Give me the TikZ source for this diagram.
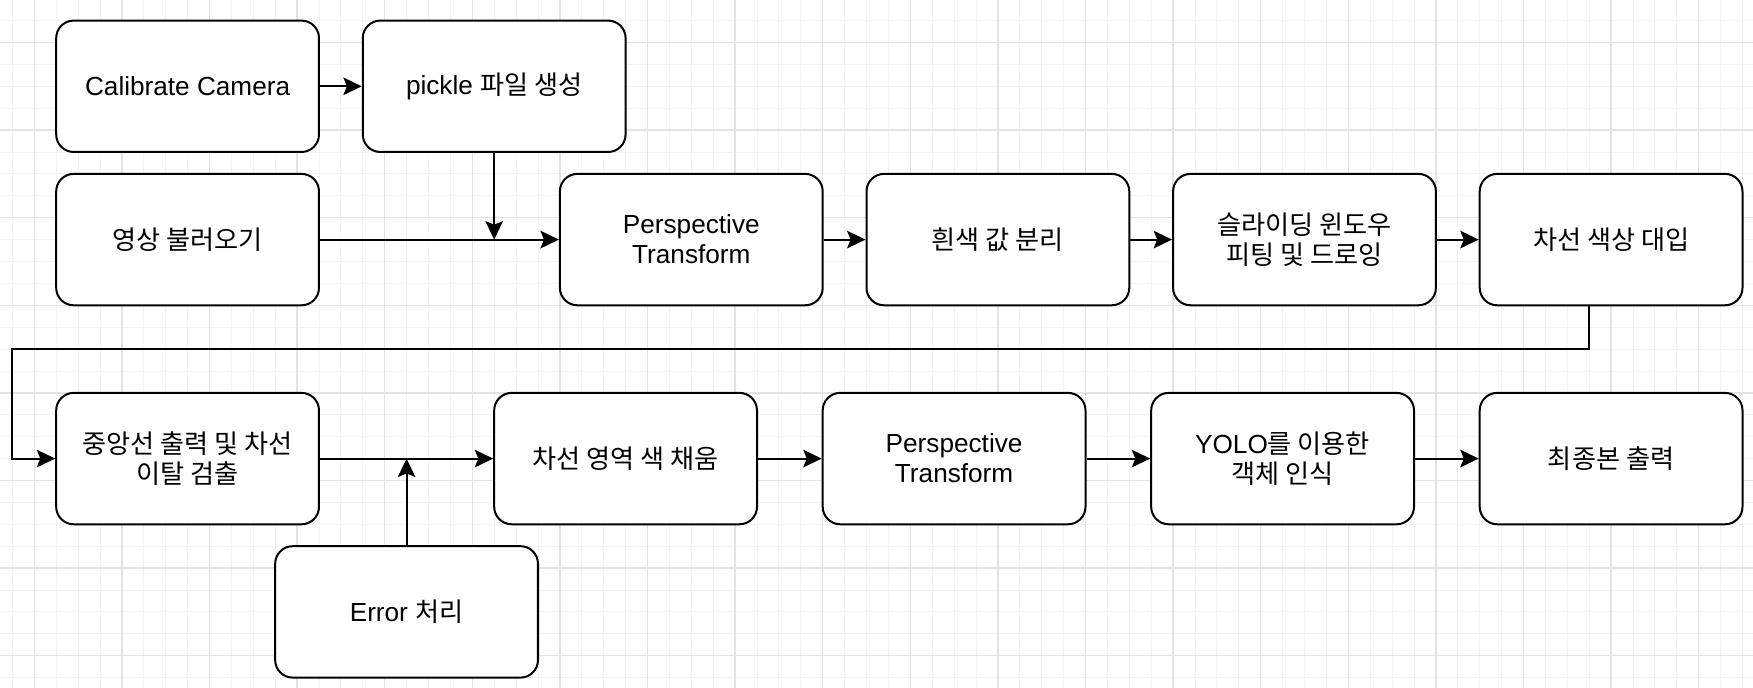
\documentclass[tikz,border=0pt]{standalone}
\usepackage{fontspec}
\setmainfont{Liberation Sans}
\newfontfamily\kr{Noto Sans CJK KR}
\usetikzlibrary{arrows.meta}
\definecolor{minorc}{HTML}{F3F3F3}
\definecolor{majorc}{HTML}{E3E3E3}
\tikzset{
  minorgrid/.style={draw=minorc, line width=0.6pt},
  majorgrid/.style={draw=majorc, line width=0.8pt},
  stepbox/.style={draw=black, fill=white, rounded corners=0.4cm, line width=1.3pt,
    minimum width=6cm, minimum height=3cm, align=center, inner sep=0pt,
    font=\fontsize{17}{19.5}\selectfont},
  arr/.style={line width=1.3pt, -{Stealth[length=0.42cm, width=0.4cm, inset=0.08cm]}},
  link/.style={line width=1.3pt}
}
\begin{document}
\begin{tikzpicture}[x=0.5cm, y=-0.5cm]
\useasboundingbox (-0.566,-0.94) rectangle (79.48,30.47);
\fill[white] (-0.566,-0.94) rectangle (79.48,30.47);
% grid
\foreach \i in {0,...,79} \draw[minorgrid] (\i,-0.94) -- (\i,30.47);
\foreach \j in {0,...,30} \draw[minorgrid] (-0.566,\j) -- (79.48,\j);
\foreach \i in {1,5,...,77} \draw[majorgrid] (\i,-0.94) -- (\i,30.47);
\foreach \j in {1,5,...,29} \draw[majorgrid] (-0.566,\j) -- (79.48,\j);
% nodes
\node[stepbox] (cal) at (8,3) {Calibrate Camera};
\node[stepbox] (pic) at (22,3) {pickle {\kr 파일 생성}};
\node[stepbox] (vid) at (8,10) {\kr 영상 불러오기};
\node[stepbox] (pt1) at (31,10) {Perspective\\Transform};
\node[stepbox] (wht) at (45,10) {\kr 흰색 값 분리};
\node[stepbox] (sld) at (59,10) {\kr 슬라이딩 윈도우\\\kr 피팅 및 드로잉};
\node[stepbox] (clr) at (73,10) {\kr 차선 색상 대입};
\node[stepbox] (cen) at (8,20) {\kr 중앙선 출력 및 차선\\\kr 이탈 검출};
\node[stepbox] (fil) at (28,20) {\kr 차선 영역 색 채움};
\node[stepbox] (pt2) at (43,20) {Perspective\\Transform};
\node[stepbox] (yol) at (58,20) {YOLO{\kr 를 이용한}\\\kr 객체 인식};
\node[stepbox] (fin) at (73,20) {\kr 최종본 출력};
\node[stepbox] (err) at (18,27) {Error {\kr 처리}};
% junctions
\coordinate (j1) at (22,10);
\coordinate (j2) at (18,20);
\coordinate (l1) at (72,15);
\coordinate (l2) at (0,15);
\coordinate (l3) at (0,20);
% connectors
\draw[arr] (cal) -- (pic);
\draw[arr] (vid) -- (pt1);
\draw[arr] (pic) -- (j1);
\draw[arr] (pt1) -- (wht);
\draw[arr] (wht) -- (sld);
\draw[arr] (sld) -- (clr);
\draw[arr, rounded corners=0pt] (clr.south -| l1) -- (l1) -- (l2) -- (l3) -- (cen.west);
\draw[arr] (cen) -- (fil);
\draw[arr] (err) -- (j2);
\draw[arr] (fil) -- (pt2);
\draw[arr] (pt2) -- (yol);
\draw[arr] (yol) -- (fin);
\end{tikzpicture}
\end{document}
